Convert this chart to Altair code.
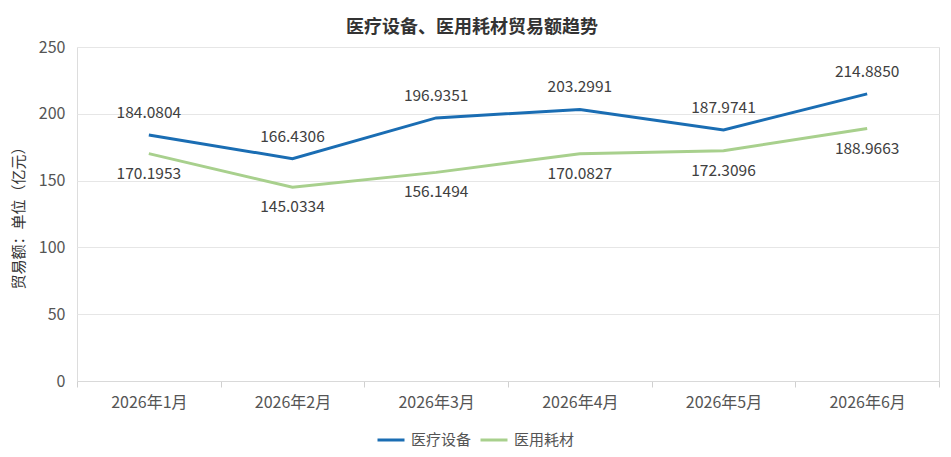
import altair as alt
import pandas as pd

months = ["2026年1月", "2026年2月", "2026年3月", "2026年4月", "2026年5月", "2026年6月"]
equip = [184.0804, 166.4306, 196.9351, 203.2991, 187.9741, 214.8850]
consum = [170.1953, 145.0334, 156.1494, 170.0827, 172.3096, 188.9663]
series = ["医疗设备", "医用耗材"]
colors = ["#1a6db3", "#a8d08d"]

rows = []
for m, a, b in zip(months, equip, consum):
    rows.append({"月份": m, "系列": series[0], "值": a, "标签": f"{a:.4f}"})
    rows.append({"月份": m, "系列": series[1], "值": b, "标签": f"{b:.4f}"})
df = pd.DataFrame(rows)

FONT = "Noto Sans CJK SC"

x = alt.X(
    "月份:N", sort=months, title=None,
    scale=alt.Scale(type="band", paddingInner=0, paddingOuter=0),
    axis=alt.Axis(labelAngle=0, tickBand="extent", labelFontSize=16, labelColor="#555555",
                  labelPadding=7, tickColor="#d0d0d0", tickSize=6, domainColor="#d9d9d9",
                  grid=False, labelFont=FONT),
)
y = alt.Y(
    "值:Q", title="贸易额：单位（亿元）",
    scale=alt.Scale(domain=[0, 250], nice=False),
    axis=alt.Axis(values=[0, 50, 100, 150, 200, 250], ticks=False, domain=False,
                  gridColor="#e6e6e6", labelFontSize=16, labelColor="#555555", labelPadding=12,
                  titleFontSize=15, titleColor="#333333", titleFontWeight="normal",
                  titlePadding=12, labelFont=FONT, titleFont=FONT),
)

base = alt.Chart(df)

lines = base.mark_line(strokeWidth=3).encode(
    x=x, y=y,
    color=alt.Color("系列:N", sort=series,
                    scale=alt.Scale(domain=series, range=colors),
                    legend=alt.Legend(title=None, orient="none", legendX=299, legendY=378,
                                      direction="horizontal", symbolType="stroke",
                                      symbolStrokeWidth=3, symbolSize=729,
                                      labelFontSize=15, labelColor="#555555", labelFont=FONT,
                                      columnPadding=2, labelOffset=5)),
)

lab_top = base.transform_filter(alt.datum["系列"] == series[0]).mark_text(
    dy=-22, fontSize=15.5, color="#404040", font=FONT
).encode(x=x, y=y, text="标签:N")

lab_bot = base.transform_filter(alt.datum["系列"] == series[1]).mark_text(
    dy=20, fontSize=15.5, color="#404040", font=FONT
).encode(x=x, y=y, text="标签:N")

chart = alt.layer(lines, lab_top, lab_bot).properties(
    width=862, height=334,
    autosize=alt.AutoSizeParams(type="none"),
    padding={"left": 69, "top": 39, "right": 4, "bottom": 68},
    title=alt.TitleParams("医疗设备、医用耗材贸易额趋势", fontSize=18, fontWeight="bold",
                          color="#333333", font=FONT, anchor="middle", dx=-36, offset=2),
).configure_view(stroke=None).configure(background="white")

chart.save("out.html", embed_options={"renderer": "svg", "actions": False})
